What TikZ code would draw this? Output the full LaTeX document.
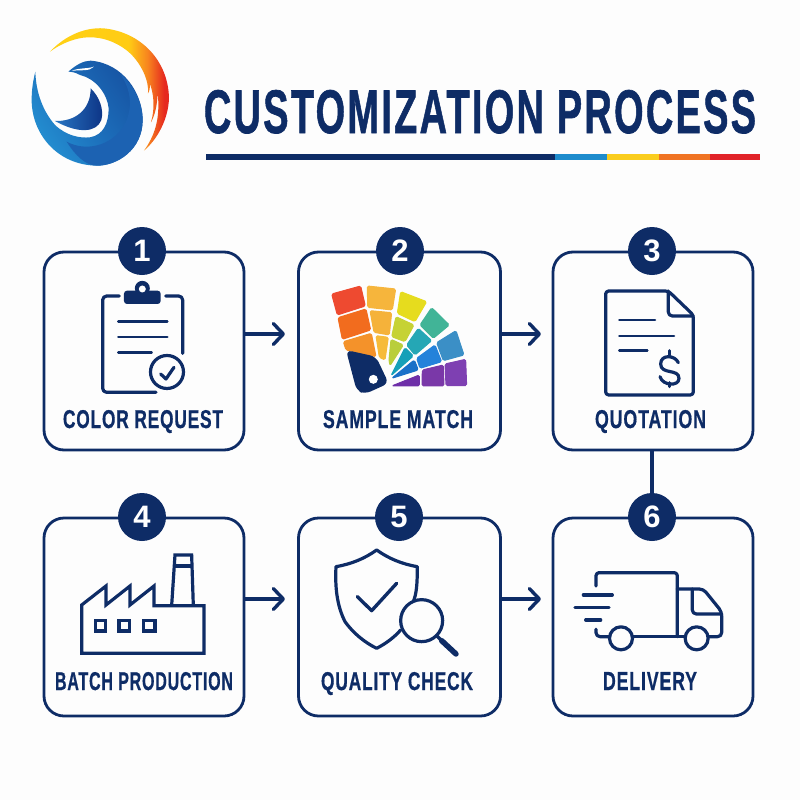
\documentclass[tikz,border=0pt]{standalone}
\usepackage{graphicx}
\usepackage{fontspec}
\setmainfont{Liberation Sans}
\newfontfamily\titlefont[LetterSpace=6,BoldFeatures={FakeBold=1.2}]{Liberation Sans}
\newfontfamily\lblfont[LetterSpace=5,BoldFeatures={FakeBold=0.8}]{Liberation Sans}
\usetikzlibrary{arrows.meta}
\definecolor{navy}{HTML}{0E2C66}
\definecolor{paper}{HTML}{FDFDFD}
\definecolor{bodydark}{RGB}{28,98,178}
\definecolor{rulea}{RGB}{30,140,205}
\definecolor{ruleb}{RGB}{250,205,30}
\definecolor{rulec}{RGB}{240,115,35}
\definecolor{ruled}{RGB}{225,35,40}
\pgfdeclarehorizontalshading{flame}{100bp}{rgb(0bp)=(1,.82,.08); rgb(25bp)=(1,.82,.08); rgb(58bp)=(1,.8,.08); rgb(66bp)=(.97,.52,.12); rgb(73bp)=(.9,.16,.12); rgb(100bp)=(.9,.16,.12)}
\pgfdeclarehorizontalshading{bodyblue}{100bp}{rgb(0bp)=(.14,.56,.82); rgb(25bp)=(.14,.56,.82); rgb(50bp)=(.11,.43,.73); rgb(75bp)=(.09,.33,.64); rgb(100bp)=(.09,.33,.64)}
\pgfdeclarehorizontalshading{swirl}{100bp}{rgb(0bp)=(.16,.46,.76); rgb(25bp)=(.16,.46,.76); rgb(75bp)=(.05,.2,.52); rgb(100bp)=(.05,.2,.52)}
\tikzset{
  stepbox/.style={draw=navy,line width=2.8pt,rounded corners=20pt,minimum width=200pt,minimum height=198pt,inner sep=0pt},
  badge/.style={circle,fill=navy,text=white,minimum size=48pt,inner sep=0pt,font=\fontsize{31}{31}\selectfont\bfseries},
  steplabel/.style={text=navy,inner sep=0pt,anchor=base,font=\lblfont\bfseries},
  flow/.style={draw=navy,line width=3.4pt,-{Straight Barb[length=10pt,width=21pt,line width=3.4pt,round]}},
  link/.style={draw=navy,line width=4pt},
  icon/.style={draw=navy,line width=3.2pt,line cap=round,line join=round},
  thinicon/.style={draw=navy,line width=2.6pt,line cap=round,line join=round},
  swatch/.style={rounded corners=1.5pt,line width=1pt,line join=round}
}
\newcommand{\sw}[2]{\definecolor{swc}{HTML}{#1}\filldraw[swatch,fill=swc,draw=swc] #2;}
\begin{document}
\begin{tikzpicture}[x=1pt,y=-1pt]
\useasboundingbox (0,0) rectangle (800,800);
\fill[paper] (0,0) rectangle (800,800);

% logo
\begin{scope}[shift={(0,10)},x=0.3333pt,y=-0.3333pt]
  \shade[shading=bodyblue,shading angle=35]
    (205,185) .. controls (228,165) and (250,152) .. (272,152)
    .. controls (370,160) and (428,250) .. (428,330)
    .. controls (428,420) and (350,468) .. (290,467)
    .. controls (170,465) and (95,370) .. (95,270)
    .. controls (95,235) and (100,210) .. (106,185)
    .. controls (108,250) and (130,305) .. (165,345)
    .. controls (200,378) and (240,385) .. (270,382)
    .. controls (310,375) and (326,340) .. (326,295)
    .. controls (322,250) and (285,205) .. (240,195)
    .. controls (228,188) and (215,185) .. (205,185) -- cycle;
  \fill[bodydark]
    (200,395) .. controls (255,425) and (330,410) .. (370,350)
    .. controls (400,300) and (395,240) .. (360,190)
    .. controls (405,230) and (428,280) .. (428,330)
    .. controls (428,420) and (350,468) .. (290,467)
    .. controls (255,466) and (225,435) .. (200,395) -- cycle;
  \shade[shading=swirl,shading angle=0]
    (165,333) .. controls (225,335) and (272,300) .. (272,235)
    .. controls (300,262) and (312,300) .. (304,330)
    .. controls (290,368) and (235,372) .. (165,333) -- cycle;
  \fill[white] (215,183) .. controls (238,172) and (258,178) .. (282,170)
    .. controls (268,186) and (240,178) .. (215,183) -- cycle;
  \shade[shading=flame,shading angle=0]
    (150,125) .. controls (200,72) and (260,52) .. (310,55)
    .. controls (420,65) and (505,150) .. (507,265)
    .. controls (505,330) and (470,390) .. (432,422)
    .. controls (462,380) and (482,330) .. (473,248)
    .. controls (472,285) and (465,315) .. (453,337)
    .. controls (465,295) and (462,255) .. (450,222)
    .. controls (450,235) and (448,245) .. (444,250)
    .. controls (448,215) and (425,160) .. (385,125)
    .. controls (340,88) and (290,78) .. (250,83)
    .. controls (215,88) and (180,103) .. (150,125) -- cycle;
\end{scope}

% title
\node[text=navy,inner sep=0pt,anchor=base,font=\titlefont\bfseries] (title) at (480,133) {\resizebox{552pt}{43pt}{CUSTOMIZATION PROCESS}};
\fill[navy] (206,154) rectangle (555,160);
\fill[rulea] (555,154) rectangle (607,160);
\fill[ruleb] (607,154) rectangle (659,160);
\fill[rulec] (659,154) rectangle (710,160);
\fill[ruled] (710,154) rectangle (760,160);

% boxes
\node[stepbox] (b1) at (144,351) {};
\node[stepbox,minimum width=202pt] (b2) at (399.5,351) {};
\node[stepbox] (b3) at (653,351) {};
\node[stepbox] (b4) at (144,617) {};
\node[stepbox,minimum width=202pt] (b5) at (399.5,617) {};
\node[stepbox] (b6) at (653,617) {};

% connectors
\coordinate (a12) at (285,334);
\coordinate (a23) at (541,334);
\coordinate (a45) at (285,599);
\coordinate (a56) at (541,599);
\draw[flow] (b1.east |- a12) -- (a12);
\draw[flow] (b2.east |- a23) -- (a23);
\draw[flow] (b4.east |- a45) -- (a45);
\draw[flow] (b5.east |- a56) -- (a56);

% badges
\node[badge] (n1) at (142,251) {1};
\node[badge] (n2) at (400,251) {2};
\node[badge] (n3) at (652,251) {3};
\node[badge] (n4) at (142,517) {4};
\node[badge] (n5) at (399,517) {5};
\node[badge] (n6) at (652,517) {6};
\draw[link] (b3.south -| n3) -- (n6);

% labels
\node[steplabel] (l1) at (143,428) {\resizebox{160pt}{18pt}{COLOR REQUEST}};
\node[steplabel] (l2) at (398,428) {\resizebox{150pt}{18pt}{SAMPLE MATCH}};
\node[steplabel] (l3) at (650.5,428) {\resizebox{111pt}{18pt}{QUOTATION}};
\node[steplabel] (l4) at (144,690) {\resizebox{178pt}{18pt}{BATCH PRODUCTION}};
\node[steplabel] (l5) at (397,690) {\resizebox{152pt}{18pt}{QUALITY CHECK}};
\node[steplabel] (l6) at (650,690) {\resizebox{94pt}{18pt}{DELIVERY}};

% clipboard
\begin{scope}[shift={(30,220)},x=0.3333pt,y=-0.3333pt]
  \draw[icon,rounded corners=4pt] (268,228) -- (218,228) -- (218,517) -- (378,517);
  \draw[icon,rounded corners=4pt] (407,228) -- (458,228) -- (458,400);
  \fill[navy,rounded corners=3pt] (282,212) rectangle (392,252);
  \fill[navy] (337,205) circle (7.5pt);
  \fill[white] (337,207) circle (3.5pt);
  \draw[thinicon] (265,305) -- (412,305) (265,351) -- (412,351) (265,397) -- (365,397);
  \draw[icon] (411,456) circle (16.5pt);
  \draw[icon] (392,462) -- (408,477) -- (432,442);
\end{scope}

% fan
\begin{scope}[shift={(290,220)},x=0.3333pt,y=-0.3333pt]
  \sw{EE4A30}{(125,222) -- (212,198) -- (226,258) -- (142,285) -- cycle}
  \sw{F26C1E}{(144,293) -- (228,267) -- (242,330) -- (157,358) -- cycle}
  \sw{F4922A}{(160,365) -- (244,340) -- (258,410) -- (168,390) -- cycle}
  \fill[navy,rounded corners=6pt] (168,390) -- (258,410) -- (296,490) -- (225,522) -- (200,512) -- cycle;
  \fill[white] (250,478) circle (4.5pt);
  \sw{F6B53C}{(232,198) -- (317,207) -- (307,270) -- (233,262) -- cycle}
  \sw{F5B23A}{(240,272) -- (305,278) -- (298,345) -- (252,337) -- cycle}
  \sw{F6BB3A}{(258,347) -- (295,352) -- (285,420) -- (268,412) -- cycle}
  \sw{E6DC1E}{(332,215) -- (410,245) -- (375,305) -- (322,280) -- cycle}
  \sw{C6D234}{(318,290) -- (372,315) -- (345,365) -- (305,350) -- cycle}
  \sw{B9CE3C}{(303,358) -- (340,375) -- (300,437) -- (297,420) -- cycle}
  \sw{41B497}{(425,263) -- (478,315) -- (430,355) -- (390,315) -- cycle}
  \sw{25A7B5}{(385,325) -- (425,362) -- (375,405) -- (350,375) -- cycle}
  \sw{16A0B8}{(345,383) -- (370,408) -- (303,467) -- cycle}
  \sw{3B8FC6}{(498,332) -- (522,405) -- (460,422) -- (440,368) -- cycle}
  \sw{2482DA}{(435,375) -- (455,425) -- (390,445) -- (380,415) -- cycle}
  \sw{1A70C8}{(373,420) -- (385,450) -- (305,475) -- cycle}
  \sw{7E40B2}{(527,418) -- (530,497) -- (468,497) -- (465,432) -- cycle}
  \sw{7A38A8}{(460,435) -- (462,498) -- (396,498) -- (397,450) -- cycle}
  \sw{6E2FA8}{(388,465) -- (388,498) -- (305,498) -- cycle}
\end{scope}

% quotation
\begin{scope}[shift={(540,220)},x=0.3333pt,y=-0.3333pt]
  \draw[icon,rounded corners=3pt] (385,213) -- (197,213) -- (197,525) -- (460,525) -- (460,285) -- cycle;
  \draw[icon,rounded corners=4pt] (385,213) -- (385,288) -- (460,288);
  \draw[thinicon] (238,300) -- (345,300) (238,348) -- (402,348) (238,392) -- (322,392);
  \draw[icon] (415,428) .. controls (405,405) and (362,402) .. (362,432)
    .. controls (362,465) and (417,445) .. (417,475)
    .. controls (417,500) and (368,498) .. (360,470);
  \draw[icon] (388,392) -- (388,406) (388,488) -- (388,500);
\end{scope}

% factory
\begin{scope}[shift={(30,490)},x=0.3333pt,y=-0.3333pt]
  \draw[icon,line cap=butt,line join=miter] (155,490) -- (155,345) -- (228,288) -- (228,345) -- (300,288) -- (300,345) -- (372,288) -- (372,347) -- (522,347) -- (522,490) -- cycle;
  \draw[icon,line cap=butt,line join=miter] (425,347) -- (435,195) -- (485,195) -- (490,347);
  \draw[icon,line cap=butt] (430,228) -- (487,228);
  \draw[icon,line cap=butt,line join=miter] (197,392) rectangle (227,423);
  \draw[icon,line cap=butt,line join=miter] (267,392) rectangle (298,423);
  \draw[icon,line cap=butt,line join=miter] (340,392) rectangle (375,423);
\end{scope}

% shield
\begin{scope}[shift={(290,490)},x=0.3333pt,y=-0.3333pt]
  \draw[icon] (370,335) .. controls (380,310) and (382,280) .. (382,230)
    .. controls (335,222) and (295,205) .. (260,180)
    .. controls (225,205) and (185,222) .. (138,230)
    .. controls (135,290) and (140,345) .. (165,395)
    .. controls (190,430) and (225,458) .. (260,475)
    .. controls (285,462) and (310,445) .. (332,420);
  \draw[icon,line width=3.4pt] (202,320) -- (245,362) -- (320,280);
  \draw[icon] (395,392) circle (21pt);
  \draw[icon] (440,437) -- (455,452);
  \draw[icon,line width=5.5pt] (455,452) -- (498,492);
\end{scope}

% truck
\begin{scope}[shift={(540,490)},x=0.3333pt,y=-0.3333pt]
  \draw[icon,rounded corners=3pt] (168,288) -- (168,248) -- (412,248) -- (412,440);
  \draw[icon,rounded corners=4pt] (168,418) -- (168,440) -- (208,440);
  \draw[icon] (278,440) -- (435,440);
  \draw[icon,rounded corners=4pt] (412,297) -- (490,297) -- (545,365) -- (545,440) -- (505,440);
  \draw[icon,rounded corners=4pt] (457,297) -- (457,372) -- (545,372);
  \draw[icon] (243,445) circle (11.5pt);
  \draw[icon] (470,445) circle (11.5pt);
  \draw[icon] (130,315) -- (217,315) (105,352) -- (207,352) (137,390) -- (182,390);
\end{scope}
\end{tikzpicture}
\end{document}
